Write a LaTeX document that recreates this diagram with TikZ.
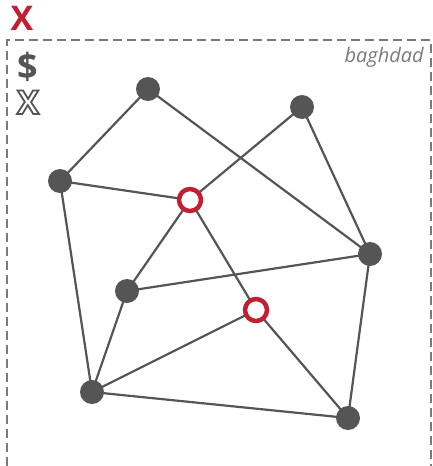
\documentclass[tikz,border=0pt]{standalone}
\usepackage{fontspec}
\setmainfont{Open Sans}
\definecolor{myred}{HTML}{C0202F}
\definecolor{mygray}{HTML}{555555}
\definecolor{dashgray}{HTML}{7A7A7A}
\newcommand{\outlinetext}[1]{\special{pdf:literal direct 1 Tr 1.8 w}#1\special{pdf:literal direct 0 Tr}}
\begin{document}
\begin{tikzpicture}[x=1pt,y=-1pt,
  dot/.style={circle,fill=mygray,inner sep=0pt,minimum size=24pt},
  ring/.style={circle,draw=myred,line width=4.5pt,fill=white,inner sep=0pt,minimum size=22pt},
  edge/.style={draw=mygray,line width=2.2pt}]
\useasboundingbox (0,0) rectangle (433,466);
\draw[dashgray,line width=1.8pt,dash pattern=on 9pt off 5pt] (7,480) -- (7,40) -- (431,40) -- (431,480);
\node[anchor=base east,text=dashgray,font=\itshape\fontsize{20}{20}\selectfont,inner sep=0pt] (lbl) at (424,62) {baghdad};
\node[anchor=base,text=myred,font=\bfseries\fontsize{34}{34}\selectfont,inner sep=0pt] (xr) at (22,30) {X};
\node[anchor=base,text=mygray,font=\bfseries\fontsize{36}{36}\selectfont,inner sep=0pt] (dol) at (27.5,79) {\$};
\node[anchor=base,text=mygray,font=\bfseries\fontsize{33}{33}\selectfont,inner sep=0pt] (xx) at (28,114) {\outlinetext{X}};
\coordinate (A) at (148,89);
\coordinate (B) at (302,107);
\coordinate (C) at (60,181);
\coordinate (R1) at (190,200);
\coordinate (D) at (370,254);
\coordinate (E) at (127,291);
\coordinate (R2) at (256,310);
\coordinate (F) at (92,392);
\coordinate (G) at (348,418);
\path[edge] (A)--(C) (A)--(D) (B)--(R1) (B)--(D) (C)--(R1) (C)--(F)
  (R1)--(E) (R1)--(R2) (E)--(D) (E)--(F) (R2)--(F) (R2)--(G) (D)--(G) (F)--(G);
\foreach \n in {A,B,C,D,E,F,G} \node[dot] (n\n) at (\n) {};
\node[ring] (nR1) at (R1) {};
\node[ring] (nR2) at (R2) {};
\end{tikzpicture}
\end{document}
